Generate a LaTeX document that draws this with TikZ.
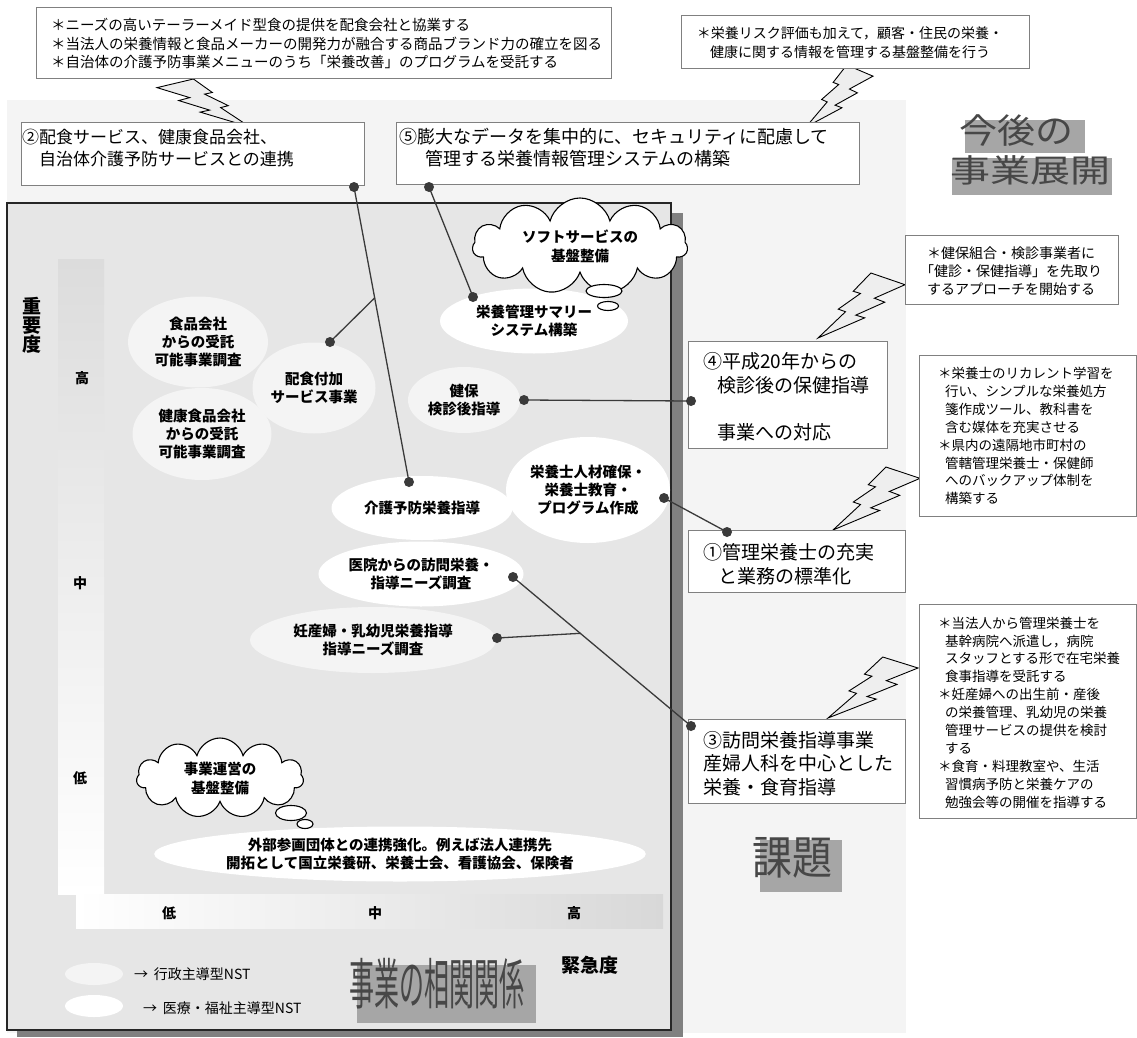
\documentclass[tikz,border=0pt]{standalone}
\usepackage{fontspec}
\setmainfont{Noto Sans CJK JP}
\usetikzlibrary{shapes.geometric,shapes.symbols,calc}
\newcommand\fsz[2]{\fontsize{#1}{#2}\selectfont}
\definecolor{lightbg}{HTML}{F4F4F4}
\definecolor{panelc}{HTML}{E6E6E6}
\definecolor{shadowc}{HTML}{808080}
\definecolor{boxline}{HTML}{808080}
\definecolor{dotc}{HTML}{3A3A3A}
\definecolor{ellL}{HTML}{F4F4F4}
\definecolor{boltfill}{HTML}{EEEEEE}
\definecolor{wagray}{HTML}{A6A6A6}
\definecolor{watext}{HTML}{474747}
\definecolor{ybartop}{HTML}{DCDCDC}
\definecolor{xbarright}{HTML}{D8D8D8}
\tikzset{
  bolt/.pic={\draw[black, line width=0.9pt, fill=boltfill, line join=miter]
    (0.392,0) -- (0.595,0.281) -- (0.512,0.315) -- (0.767,0.556) -- (0.684,0.596) -- (1,1)
    -- (0.464,0.690) -- (0.566,0.648) -- (0.233,0.449) -- (0.352,0.388) -- (0,0.180) -- cycle;}
}
\begin{document}
\begin{tikzpicture}[x=1pt,y=-1pt,
  wbox/.style={draw=boxline, fill=white, line width=0.9pt, inner sep=0, outer sep=0},
  txt/.style={inner sep=0, outer sep=0, text=black},
  ell/.style={ellipse, inner sep=0, outer sep=0, align=center, font=\bfseries\fsz{14.5}{18}},
  dot/.style={circle, fill=dotc, inner sep=0, minimum size=10pt},
  conn/.style={draw=dotc, line width=1.3pt},
  cloudbox/.style={cloud, cloud puffs=11, aspect=2.6, draw=black, fill=white, line width=1.1pt, inner sep=0, align=center, font=\bfseries\fsz{14.5}{19}},
  bubble/.style={ellipse, draw=black, fill=white, line width=1.1pt, inner sep=0},
  axl/.style={txt, font=\bfseries\fsz{14}{16}},
  wa/.style={txt, text=watext},
  calltxt/.style={txt, align=left, font=\fsz{13.5}{17.9}},
  boxtxt/.style={txt, anchor=west, font=\fsz{19}{23}},
]
\useasboundingbox (0,0) rectangle (1137,1038);
\fill[white] (0,0) rectangle (1137,1038);
\fill[lightbg] (7,100) rectangle (906,1033);

% lightning bolts
\pic[xscale=93, yscale=48] at (157,79) {bolt};
\pic[xscale=-67, yscale=62] at (873,65) {bolt};
\pic[xscale=-87, yscale=65] at (905,273) {bolt};
\pic[xscale=-87, yscale=63] at (920,467) {bolt};
\pic[xscale=-90, yscale=61] at (918,657) {bolt};

% top callouts
\node[wbox, minimum width=575pt, minimum height=71pt] (callTL) at (323.5,42.5) {};
\node[txt, anchor=west, align=left, font=\fsz{14.5}{18.5}] (callTLt) at (51,43.5)
  {＊ニーズの高いテーラーメイド型食の提供を配食会社と協業する\\＊当法人の栄養情報と食品メーカーの開発力が融合する商品ブランド力の確立を図る\\＊自治体の介護予防事業メニューのうち「栄養改善」のプログラムを受託する};
\node[wbox, minimum width=348pt, minimum height=53pt] (callTR) at (855,41.5) {};
\node[txt, align=center, font=\fsz{14}{19}] (callTRt) at (850,42.5)
  {＊栄養リスク評価も加えて，顧客・住民の栄養・\\健康に関する情報を管理する基盤整備を行う};

% main boxes
\node[wbox, minimum width=343pt, minimum height=63pt] (box2) at (192.5,153.5) {};
\node[txt, anchor=west, font=\fsz{17}{20}] (box2a) at (22,137) {②配食サービス、健康食品会社、};
\node[txt, anchor=west, font=\fsz{17}{20}] (box2b) at (39,159) {自治体介護予防サービスとの連携};
\node[wbox, minimum width=463pt, minimum height=62pt] (box5) at (627.5,153) {};
\node[txt, anchor=west, font=\fsz{18}{20}] (box5a) at (399,137) {⑤膨大なデータを集中的に、セキュリティに配慮して};
\node[txt, anchor=west, font=\fsz{18}{20}] (box5b) at (425,159) {管理する栄養情報管理システムの構築};

\node[wbox, minimum width=199pt, minimum height=107pt] (box4) at (787.5,394.5) {};
\node[boxtxt] (box4a) at (703,361) {④平成20年からの};
\node[boxtxt] (box4b) at (717,385) {検診後の保健指導};
\node[boxtxt] (box4c) at (717,432) {事業への対応};
\node[wbox, minimum width=217pt, minimum height=62pt] (box1) at (796.5,561) {};
\node[boxtxt] (box1a) at (703,552) {①管理栄養士の充実};
\node[boxtxt] (box1b) at (718,576) {と業務の標準化};
\node[wbox, minimum width=217pt, minimum height=84pt] (box3) at (796.5,761) {};
\node[boxtxt] (box3a) at (703,740) {③訪問栄養指導事業};
\node[boxtxt] (box3b) at (703,763) {産婦人科を中心とした};
\node[boxtxt] (box3c) at (703,787) {栄養・食育指導};

% right callouts
\node[wbox, minimum width=213pt, minimum height=69pt] (callK) at (1011.5,269.5) {};
\node[txt, align=center, font=\fsz{14}{18}] (callKt) at (1011,271)
  {＊健保組合・検診事業者に\\「健診・保健指導」を先取り\\するアプローチを開始する};
\node[wbox, minimum width=217pt, minimum height=161pt] (callE) at (1027.5,435.5) {};
\node[calltxt, anchor=west] (callEt) at (938,436)
  {＊栄養士のリカレント学習を\\\hspace*{7pt}行い、シンプルな栄養処方\\\hspace*{7pt}箋作成ツール、教科書を\\\hspace*{7pt}含む媒体を充実させる\\＊県内の遠隔地市町村の\\\hspace*{7pt}管轄管理栄養士・保健師\\\hspace*{7pt}へのバックアップ体制を\\\hspace*{7pt}構築する};
\node[wbox, minimum width=217pt, minimum height=214pt] (callH) at (1027.5,711) {};
\node[calltxt, anchor=west] (callHt) at (938,712.5)
  {＊当法人から管理栄養士を\\\hspace*{7pt}基幹病院へ派遣し，病院\\\hspace*{7pt}スタッフとする形で在宅栄養\\\hspace*{7pt}食事指導を受託する\\＊妊産婦への出生前・産後\\\hspace*{7pt}の栄養管理、乳幼児の栄養\\\hspace*{7pt}管理サービスの提供を検討\\\hspace*{7pt}する\\＊食育・料理教室や、生活\\\hspace*{7pt}習慣病予防と栄養ケアの\\\hspace*{7pt}勉強会等の開催を指導する};

% titles (word art)
\fill[wagray] (965,120) rectangle (1085,153);
\fill[wagray] (952,158) rectangle (1112,195);
\node[wa, font=\fsz{38}{38}] (tKongo) at (1016,131) {\scalebox{1}[0.9]{今後の}};
\node[wa, font=\fsz{40}{40}] (tTenkai) at (1030,170) {\scalebox{1}[0.8]{事業展開}};
\fill[wagray] (760,840) rectangle (842,892);
\node[wa, font=\fsz{40}{40}] (tKadai) at (792,858) {\scalebox{1}[1.15]{課題}};

% chart panel
\fill[shadowc] (17,213) rectangle (683,1037);
\filldraw[fill=panelc, draw=black!85, line width=1.2pt] (7,203) rectangle (671,1030);
\shade[top color=ybartop, bottom color=white] (58,259) rectangle (104,894);
\shade[left color=white, right color=xbarright] (76,894) rectangle (663,928);

% ellipses
\node[ell, fill=ellL, minimum width=140pt, minimum height=91pt] (eShoku) at (198,342) {食品会社\\からの受託\\可能事業調査};
\node[ell, fill=ellL, minimum width=139pt, minimum height=92pt] (eKenko) at (202,434) {健康食品会社\\からの受託\\可能事業調査};
\node[ell, fill=ellL, minimum width=122pt, minimum height=91pt] (eHai) at (314,388) {配食付加\\サービス事業};
\node[ell, fill=white, minimum width=188pt, minimum height=65pt] (eEiyo) at (534,321) {栄養管理サマリー\\システム構築};
\node[ell, fill=ellL, minimum width=112pt, minimum height=66pt] (eKenpo) at (464,400) {健保\\検診後指導};
\node[ell, fill=white, minimum width=151pt, minimum height=106pt] (eShi) at (588,490) {栄養士人材確保・\\栄養士教育・\\プログラム作成};
\node[ell, fill=white, minimum width=181pt, minimum height=64pt] (eKai) at (422,508) {介護予防栄養指導};
\node[ell, fill=white, minimum width=183pt, minimum height=65pt] (eIin) at (421,574) {医院からの訪問栄養・\\指導ニーズ調査};
\node[ell, fill=ellL, minimum width=246pt, minimum height=66pt] (eNin) at (373,640) {妊産婦・乳幼児栄養指導\\指導ニーズ調査};
\node[ell, fill=white, minimum width=490pt, minimum height=55pt] (eGai) at (400,854) {外部参画団体との連携強化。例えば法人連携先\\開拓として国立栄養研、栄養士会、看護協会、保険者};

% clouds
\node[cloudbox, minimum width=215pt, minimum height=82pt] (cSoft) at (580,246) {ソフトサービスの\\基盤整備};
\node[bubble, minimum width=36pt, minimum height=13pt] (bS1) at (604,291) {};
\node[bubble, minimum width=21pt, minimum height=9pt] (bS2) at (608,306) {};
\node[cloudbox, minimum width=167pt, minimum height=80pt] (cJigyo) at (220,778) {事業運営の\\基盤整備};
\node[bubble, minimum width=31pt, minimum height=15pt] (bJ1) at (291,813) {};
\node[bubble, minimum width=16pt, minimum height=9pt] (bJ2) at (305,824) {};

% axes labels
\node[txt, align=center, font=\bfseries\fsz{19}{19}] (yLab) at (32,325) {重\\要\\度};
\node[axl] (yHi) at (82,378) {高};
\node[axl] (yMid) at (80,583) {中};
\node[axl] (yLo) at (80,778) {低};
\node[axl] (xLo) at (169,913) {低};
\node[axl] (xMid) at (375,913) {中};
\node[axl] (xHi) at (574,913) {高};
\node[txt, font=\bfseries\fsz{19}{20}] (xLab) at (590,965) {緊急度};

% legend
\node[ellipse, fill=ellL, minimum width=58pt, minimum height=22pt, inner sep=0] (lg1) at (94,974) {};
\node[ellipse, fill=white, minimum width=58pt, minimum height=22pt, inner sep=0] (lg2) at (94,1006) {};
\node[txt, anchor=west, font=\fsz{14}{16}] (lg1t) at (134,974) {→\hspace{6pt}行政主導型NST};
\node[txt, anchor=west, font=\fsz{14}{16}] (lg2t) at (143,1008) {→\hspace{6pt}医療・福祉主導型NST};

% bottom word art
\fill[wagray] (357,965) rectangle (536,1023);
\node[wa, font=\fsz{25}{25}] (tSokan) at (437,984) {\scalebox{1}[2.2]{事業の相関関係}};

% dots
\node[dot] (d2) at (354,187) {};
\node[dot] (d5) at (429,187) {};
\node[dot] (dHai) at (330,342) {};
\node[dot] (dKai) at (409,482) {};
\node[dot] (dEiyo) at (473,297) {};
\node[dot] (dKenpo) at (524,400) {};
\node[dot] (d4) at (691,401) {};
\node[dot] (dShi) at (664,498) {};
\node[dot] (d1) at (727,532) {};
\node[dot] (dIin) at (513,577) {};
\node[dot] (d3) at (691,726) {};
\node[dot] (dNin) at (497,638) {};
\coordinate (j1) at ($(d2.center)!0.376!(dKai.center)$);
\coordinate (j2) at ($(dIin.center)!0.378!(d3.center)$);

% connectors
\draw[conn] (d2.center) -- (dKai.center);
\draw[conn] (dHai.center) -- (j1);
\draw[conn] (d5.center) -- (dEiyo.center);
\draw[conn] (dKenpo.center) -- (d4.center);
\draw[conn] (dShi.center) -- (d1.center);
\draw[conn] (dIin.center) -- (d3.center);
\draw[conn] (dNin.center) -- (j2);
\end{tikzpicture}
\end{document}
